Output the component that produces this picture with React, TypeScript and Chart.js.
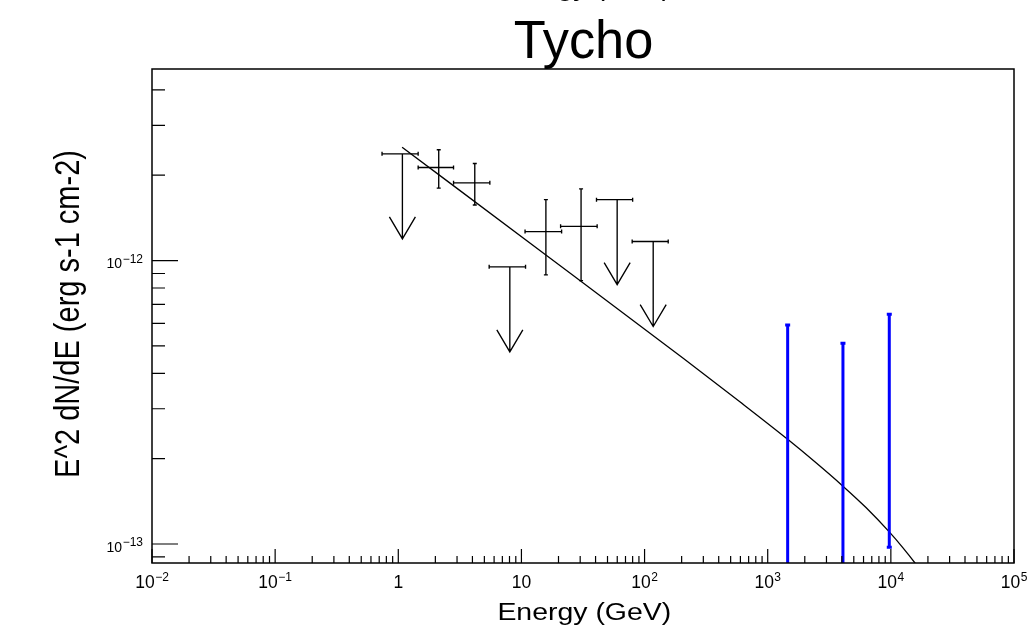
import React, { useEffect, useRef } from "react";
import { Chart, registerables } from "chart.js";

Chart.register(...registerables);

// ---------------- Data ----------------
const titleText = "Tycho";
const xAxisTitle = "Energy (GeV)";
const yAxisTitle = "E^2 dN/dE (erg s-1 cm-2)";

const xRange = [1e-2, 1e5];
const yRange = [8.57e-14, 4.74e-12];

const xTickValues = [1e-2, 1e-1, 1, 10, 1e2, 1e3, 1e4, 1e5];
const xTickLabels = ["10^-2", "10^-1", "1", "10", "10^2", "10^3", "10^4", "10^5"];
const yTickValues = [1e-13, 1e-12];
const yTickLabels = ["10^-13", "10^-12"];
const yMinorTickValues = [
  9e-14, 2e-13, 3e-13, 4e-13, 5e-13, 6e-13, 7e-13, 8e-13, 9e-13, 2e-12, 3e-12, 4e-12,
];

// Fermi-LAT flux points (GeV, erg s-1 cm-2)
const detE = [2.13, 4.18, 15.8, 30.5];
const detELo = [1.45, 2.81, 10.7, 20.8];
const detEHi = [2.81, 5.54, 21.2, 41.2];
const detF = [2.13e-12, 1.88e-12, 1.265e-12, 1.32e-12];
const detFLo = [1.8e-12, 1.57e-12, 8.9e-13, 8.5e-13];
const detFHi = [2.46e-12, 2.2e-12, 1.64e-12, 1.79e-12];

// Upper limits
const ulE = [1.08, 8.05, 59.9, 117.5];
const ulELo = [0.738, 5.47, 40.7, 79.3];
const ulEHi = [1.45, 10.8, 80.0, 155.6];
const ulF = [2.38e-12, 9.5e-13, 1.64e-12, 1.167e-12];

// TeV error bars (blue)
const tevE = [1452, 4083, 9710];
const tevFLo = [5e-14, 5e-14, 9.73e-14];
const tevFHi = [5.93e-13, 5.11e-13, 6.47e-13];

// Model curve
const modelE = [1.074, 15.8, 205.9, 594, 1452, 2415, 4083, 6281, 9710, 12500, 15700, 18900];
const modelF = [
  2.51e-12, 1.047e-12, 4.52e-13, 3.174e-13, 2.34e-13, 1.95e-13, 1.6e-13, 1.345e-13,
  1.103e-13, 9.71e-14, 8.57e-14, 7.67e-14,
];

// ---------------- Helpers ----------------
const FONT = "'Liberation Sans', Arial, Helvetica, sans-serif";

function drawSup(
  ctx: CanvasRenderingContext2D,
  label: string,
  x: number,
  yBase: number,
  baseSize: number,
  expSize: number,
  raise: number,
  align: "center" | "right"
) {
  const parts = label.split("^");
  const b = parts[0];
  const e = parts.length > 1 ? parts[1].replace("-", "\u2212") : "";
  ctx.font = `${baseSize}px ${FONT}`;
  const wb = ctx.measureText(b).width;
  let we = 0;
  if (e) {
    ctx.font = `${expSize}px ${FONT}`;
    we = ctx.measureText(e).width + 0.5;
  }
  const total = wb + we;
  const left = align === "center" ? x - total / 2 : x - total;
  ctx.textAlign = "left";
  ctx.textBaseline = "alphabetic";
  ctx.font = `${baseSize}px ${FONT}`;
  ctx.fillText(b, left, yBase);
  if (e) {
    ctx.font = `${expSize}px ${FONT}`;
    ctx.fillText(e, left + wb + 0.5, yBase - raise);
  }
}

function drawScaledText(
  ctx: CanvasRenderingContext2D,
  text: string,
  cx: number,
  baseline: number,
  size: number,
  sx: number
) {
  ctx.save();
  ctx.translate(cx, baseline);
  ctx.scale(sx, 1);
  ctx.font = `${size}px ${FONT}`;
  ctx.textAlign = "center";
  ctx.textBaseline = "alphabetic";
  ctx.fillText(text, 0, 0);
  ctx.restore();
}

const rootPlugin = {
  id: "rootStyle",
  afterDatasetsDraw(chart: any) {
    const { ctx, chartArea: a } = chart;
    const xs = chart.scales.x;
    const ys = chart.scales.y;
    ctx.save();
    ctx.beginPath();
    ctx.rect(a.left, a.top, a.right - a.left, a.bottom - a.top);
    ctx.clip();
    ctx.lineCap = "butt";

    chart.data.datasets.forEach((ds: any) => {
      if (ds.kind === "det") {
        ctx.strokeStyle = "#000";
        ctx.lineWidth = 1.35;
        ds.data.forEach((p: any) => {
          const px = xs.getPixelForValue(p.x);
          const py = ys.getPixelForValue(p.y);
          const x0 = xs.getPixelForValue(p.xLo);
          const x1 = xs.getPixelForValue(p.xHi);
          const y0 = ys.getPixelForValue(p.yLo);
          const y1 = ys.getPixelForValue(p.yHi);
          ctx.beginPath();
          ctx.moveTo(x0, py);
          ctx.lineTo(x1, py);
          ctx.moveTo(px, y1);
          ctx.lineTo(px, y0);
          ctx.moveTo(x0, py - 2);
          ctx.lineTo(x0, py + 2);
          ctx.moveTo(x1, py - 2);
          ctx.lineTo(x1, py + 2);
          ctx.moveTo(px - 2, y1);
          ctx.lineTo(px + 2, y1);
          ctx.moveTo(px - 2, y0);
          ctx.lineTo(px + 2, y0);
          ctx.stroke();
        });
      } else if (ds.kind === "ul") {
        ctx.strokeStyle = "#000";
        ctx.lineWidth = 1.35;
        ds.data.forEach((p: any) => {
          const px = xs.getPixelForValue(p.x);
          const py = ys.getPixelForValue(p.y);
          const x0 = xs.getPixelForValue(p.xLo);
          const x1 = xs.getPixelForValue(p.xHi);
          const tip = py + 85;
          ctx.beginPath();
          ctx.moveTo(x0, py);
          ctx.lineTo(x1, py);
          ctx.moveTo(x0, py - 2);
          ctx.lineTo(x0, py + 2);
          ctx.moveTo(x1, py - 2);
          ctx.lineTo(x1, py + 2);
          ctx.moveTo(px, py);
          ctx.lineTo(px, tip);
          ctx.moveTo(px - 13, tip - 22);
          ctx.lineTo(px, tip);
          ctx.lineTo(px + 13, tip - 22);
          ctx.stroke();
        });
      } else if (ds.kind === "tev") {
        ctx.strokeStyle = "#0000ff";
        ctx.lineWidth = 3;
        ds.data.forEach((p: any) => {
          const px = xs.getPixelForValue(p.x);
          const y0 = ys.getPixelForValue(p.yLo);
          const y1 = ys.getPixelForValue(p.yHi);
          ctx.beginPath();
          ctx.moveTo(px, y1);
          ctx.lineTo(px, y0);
          ctx.moveTo(px - 2.5, y1);
          ctx.lineTo(px + 2.5, y1);
          ctx.moveTo(px - 2.5, y0);
          ctx.lineTo(px + 2.5, y0);
          ctx.stroke();
        });
      }
    });
    ctx.restore();
  },
  afterDraw(chart: any) {
    const { ctx, chartArea: a } = chart;
    const xs = chart.scales.x;
    const ys = chart.scales.y;
    ctx.save();
    ctx.fillStyle = "#000";
    ctx.strokeStyle = "#000";

    // frame
    ctx.lineWidth = 1.5;
    ctx.strokeRect(a.left, a.top, a.right - a.left, a.bottom - a.top);

    // x ticks
    ctx.lineWidth = 1.2;
    ctx.beginPath();
    xTickValues.forEach((v) => {
      const px = xs.getPixelForValue(v);
      ctx.moveTo(px, a.bottom);
      ctx.lineTo(px, a.bottom - 14);
    });
    for (let d = 0; d < xTickValues.length - 1; d++) {
      for (let m = 2; m <= 9; m++) {
        const px = xs.getPixelForValue(xTickValues[d] * m);
        ctx.moveTo(px, a.bottom);
        ctx.lineTo(px, a.bottom - 7);
      }
    }
    // y ticks
    yTickValues.forEach((v) => {
      const py = ys.getPixelForValue(v);
      ctx.moveTo(a.left, py);
      ctx.lineTo(a.left + 26, py);
    });
    yMinorTickValues.forEach((v) => {
      const py = ys.getPixelForValue(v);
      ctx.moveTo(a.left, py);
      ctx.lineTo(a.left + 13, py);
    });
    ctx.stroke();

    // x tick labels
    xTickValues.forEach((v, i) => {
      const px = xs.getPixelForValue(v);
      drawSup(ctx, xTickLabels[i], px, a.bottom + 25, 17.5, 12, 7, "center");
    });
    // y tick labels
    yTickValues.forEach((v, i) => {
      const py = ys.getPixelForValue(v);
      drawSup(ctx, yTickLabels[i], a.left - 9, py + 7.8, 14, 12, 5.8, "right");
    });

    const cx = (a.left + a.right) / 2;
    // x-axis title
    drawScaledText(ctx, xAxisTitle, cx + 1.3, 619.5, 23.5, 1.21);
    // clipped text remnant at top edge (only descenders visible)
    drawScaledText(ctx, xAxisTitle, cx + 1.3, -4, 23.5, 1.21);
    // title
    drawScaledText(ctx, titleText, cx + 0.5, 57.5, 54, 0.97);

    // y-axis title
    ctx.save();
    ctx.translate(79, 314);
    ctx.rotate(-Math.PI / 2);
    ctx.scale(1, 1.24);
    ctx.font = `29px ${FONT}`;
    ctx.textAlign = "center";
    ctx.textBaseline = "alphabetic";
    ctx.fillText(yAxisTitle, 0, 0);
    ctx.restore();

    ctx.restore();
  },
};

export default function App() {
  const ref = useRef<HTMLCanvasElement | null>(null);

  useEffect(() => {
    if (!ref.current) return;
    const datasets: any[] = [
      {
        label: "model",
        data: modelE.map((e, i) => ({ x: e, y: modelF[i] })),
        showLine: true,
        borderColor: "#000",
        borderWidth: 1.3,
        pointRadius: 0,
        fill: false,
        cubicInterpolationMode: "monotone",
      },
      {
        label: "Fermi-LAT",
        kind: "det",
        data: detE.map((e, i) => ({
          x: e,
          y: detF[i],
          xLo: detELo[i],
          xHi: detEHi[i],
          yLo: detFLo[i],
          yHi: detFHi[i],
        })),
        pointRadius: 0,
        showLine: false,
      },
      {
        label: "Upper limits",
        kind: "ul",
        data: ulE.map((e, i) => ({ x: e, y: ulF[i], xLo: ulELo[i], xHi: ulEHi[i] })),
        pointRadius: 0,
        showLine: false,
      },
      {
        label: "TeV",
        kind: "tev",
        data: tevE.map((e, i) => ({ x: e, y: tevFHi[i], yLo: tevFLo[i], yHi: tevFHi[i] })),
        pointRadius: 0,
        showLine: false,
      },
    ];

    const chart = new Chart(ref.current, {
      type: "scatter",
      data: { datasets },
      options: {
        animation: false,
        responsive: false,
        maintainAspectRatio: false,
        events: [],
        layout: { padding: { left: 152, right: 16, top: 69, bottom: 63 } },
        scales: {
          x: { type: "logarithmic", min: xRange[0], max: xRange[1], display: false },
          y: { type: "logarithmic", min: yRange[0], max: yRange[1], display: false },
        },
        plugins: {
          legend: { display: false },
          tooltip: { enabled: false },
          title: { display: false },
        },
      },
      plugins: [rootPlugin],
    } as any);
    return () => chart.destroy();
  }, []);

  return (
    <div style={{ position: "fixed", left: 0, top: 0, width: 1030, height: 626, background: "#fff" }}>
      <canvas ref={ref} width={1030} height={626} style={{ display: "block", width: 1030, height: 626 }} />
    </div>
  );
}
